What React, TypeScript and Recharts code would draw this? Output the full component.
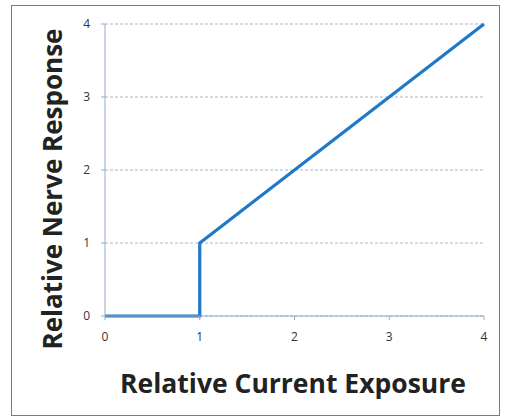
import React from 'react';
import { LineChart, Line, XAxis, YAxis, CartesianGrid } from 'recharts';

// relative current exposure vs relative nerve response
const exposure = [0, 1, 1, 4];
const response = [0, 0, 1, 4];
const xTicks = [0, 1, 2, 3, 4];
const yTicks = [0, 1, 2, 3, 4];

const data = exposure.map((x, i) => ({ x, y: response[i] }));

const AXIS = '#93a9c9';
const GRID = '#a9b6cc';
const LINE = '#1f78c8';
const FONT = '"Open Sans", "Liberation Sans", sans-serif';

const App: React.FC = () => {
  return (
    <div style={{ position: 'absolute', left: 0, top: 0, width: 505, height: 419, background: '#fff' }}>
      <div
        style={{
          position: 'absolute', left: 11, top: 5, width: 489, height: 411,
          border: '1.5px solid #5d7fa8', boxSizing: 'border-box',
        }}
      />
      <div style={{ position: 'absolute', left: 0, top: 0 }}>
        <LineChart width={505} height={419} data={data}
          margin={{ top: 24, right: 21, bottom: 73, left: 65 }}>
          <CartesianGrid vertical={false} stroke={GRID} strokeDasharray="3 2" />
          <XAxis
            dataKey="x" type="number" domain={[0, 4]} ticks={xTicks} height={30}
            stroke={AXIS} tickSize={4} tickMargin={12}
            tick={{ fill: '#333', fontSize: 12, fontFamily: FONT }}
          />
          <YAxis
            type="number" domain={[0, 4]} ticks={yTicks} width={40}
            stroke={AXIS} tickSize={4} tickMargin={11}
            tick={{ fill: '#333', fontSize: 12, fontFamily: FONT }}
          />
          <Line
            type="linear" dataKey="y" stroke={LINE} strokeWidth={3.2}
            dot={false} isAnimationActive={false}
          />
        </LineChart>
      </div>
      <svg width={505} height={419} style={{ position: 'absolute', left: 0, top: 0, pointerEvents: 'none' }}>
        <text x={293} y={393} textAnchor="middle" fontFamily={FONT} fontWeight={700}
          fontSize={26.5} fill="#222">
          Relative Current Exposure
        </text>
        <text x={0} y={0} transform="translate(62 189) rotate(-90)" textAnchor="middle"
          fontFamily={FONT} fontWeight={700} fontSize={26} fill="#222">
          Relative Nerve Response
        </text>
      </svg>
    </div>
  );
};

export default App;
